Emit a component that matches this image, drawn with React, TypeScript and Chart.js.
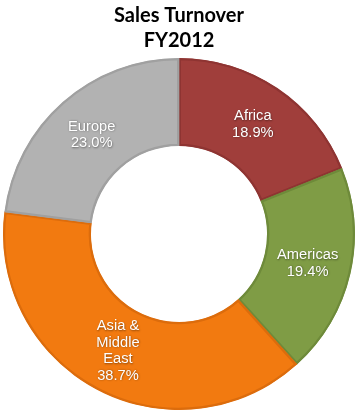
import React, { useEffect, useRef } from "react";
import { Chart, registerables } from "chart.js";

Chart.register(...registerables);

const categories = ["Africa", "Americas", "Asia & Middle East", "Europe"];
const labelLines = [["Africa"], ["Americas"], ["Asia &", "Middle", "East"], ["Europe"]];
const shares = [18.9, 19.4, 38.7, 23.0];
const colors = ["#A03E3B", "#7F9C45", "#F27A10", "#B2B2B2"];
const edgeColors = ["#8E3432", "#6E8A3A", "#DC6C0C", "#A0A0A0"];
const titleLines = ["Sales Turnover", "FY2012"];

const labelPlugin = {
  id: "sliceLabels",
  afterDatasetsDraw(chart: any) {
    const ctx = chart.ctx;
    const meta = chart.getDatasetMeta(0);
    ctx.save();
    ctx.font = "14.7px 'Liberation Sans', Arial, sans-serif";
    ctx.fillStyle = "#FFFFFF";
    ctx.textAlign = "center";
    ctx.textBaseline = "middle";
    ctx.shadowColor = "rgba(0,0,0,0.45)";
    ctx.shadowBlur = 2;
    ctx.shadowOffsetX = 0.5;
    ctx.shadowOffsetY = 0.5;
    meta.data.forEach((arc: any, i: number) => {
      const p = arc.getProps(["x", "y", "startAngle", "endAngle", "innerRadius", "outerRadius"], true);
      const mid = (p.startAngle + p.endAngle) / 2;
      const r = (p.innerRadius + p.outerRadius) / 2;
      const cx = p.x + Math.cos(mid) * r;
      const cy = p.y + Math.sin(mid) * r;
      const lines = [...labelLines[i], shares[i].toFixed(1) + "%"];
      const lh = 16.5;
      const top = cy - ((lines.length - 1) * lh) / 2;
      lines.forEach((t, k) => ctx.fillText(t, cx, top + k * lh));
    });
    ctx.restore();
  },
};

export default function App() {
  const ref = useRef<HTMLCanvasElement>(null);
  useEffect(() => {
    document.body.style.margin = "0";
    const chart = new Chart(ref.current!, {
      type: "doughnut",
      data: {
        labels: categories,
        datasets: [
          {
            data: shares,
            backgroundColor: colors,
            borderColor: edgeColors,
            borderWidth: 2,
            borderAlign: "inner",
          },
        ],
      },
      options: {
        animation: false,
        responsive: false,
        cutout: "50%",
        rotation: 0,
        layout: { padding: { top: 0, bottom: 3, left: 3, right: 3 } },
        plugins: {
          legend: { display: false },
          tooltip: { enabled: false },
          title: {
            display: true,
            text: titleLines,
            color: "#000000",
            font: { family: "Lato, 'Open Sans', sans-serif", size: 20, weight: "bold", lineHeight: 1.25 },
            padding: { top: 3, bottom: 3 },
          },
        },
      } as any,
      plugins: [labelPlugin],
    });
    return () => chart.destroy();
  }, []);
  return <canvas ref={ref} width={358} height={415} style={{ display: "block" }} />;
}
